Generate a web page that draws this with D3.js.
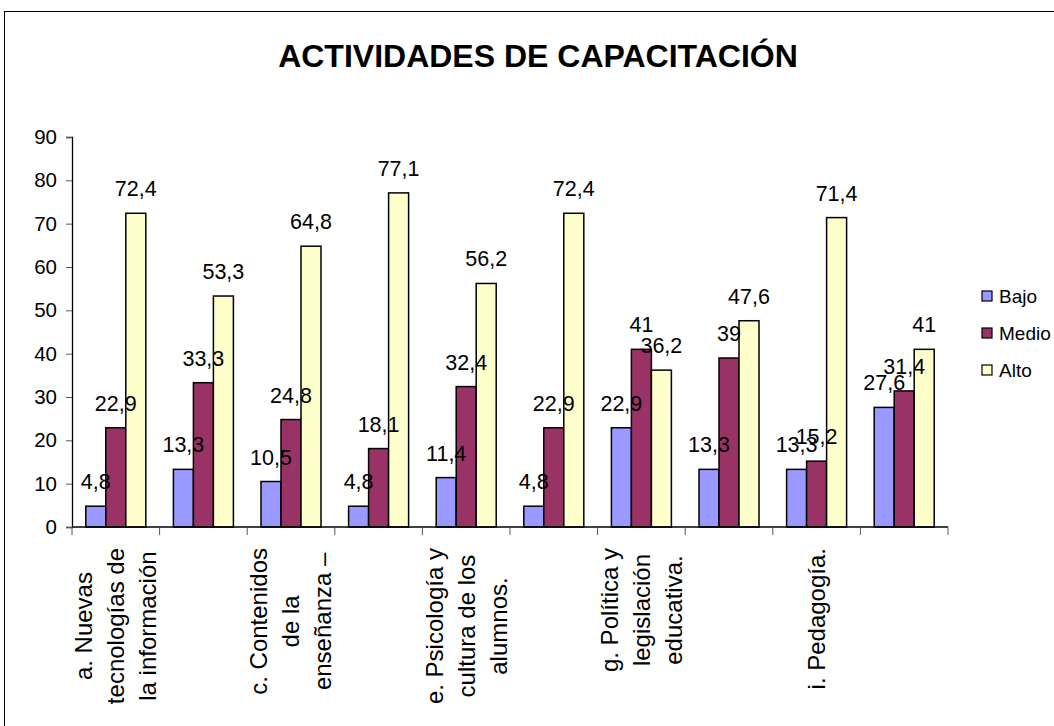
<!DOCTYPE html>
<html>
<head>
<meta charset="utf-8">
<script src="https://cdn.jsdelivr.net/npm/d3@7"></script>
<style>
  body { margin: 0; background: #fff; }
  svg text { font-family: Arial, "Liberation Sans", sans-serif; fill: #000; }
</style>
</head>
<body>
<svg id="chart" width="1054" height="726"></svg>
<script>
// données
var categories = ["a", "b", "c", "d", "e", "f", "g", "h", "i", "j"];
var catLabels = [
    ["a. Nuevas", "tecnologías de", "la información"],
    [],
    ["c. Contenidos", "de la", "enseñanza –"],
    [],
    ["e. Psicología y", "cultura de los", "alumnos."],
    [],
    ["g. Política y", "legislación", "educativa."],
    [],
    ["i. Pedagogía."],
    []
];
var series = ["Bajo", "Medio", "Alto"];
var bajo  = [4.8, 13.3, 10.5, 4.8, 11.4, 4.8, 22.9, 13.3, 13.3, 27.6];
var medio = [22.9, 33.3, 24.8, 18.1, 32.4, 22.9, 41, 39, 15.2, 31.4];
var alto  = [72.4, 53.3, 64.8, 77.1, 56.2, 72.4, 36.2, 47.6, 71.4, 41];
var yTicks = [0, 10, 20, 30, 40, 50, 60, 70, 80, 90];
var colors = ["#9999FF", "#993366", "#FFFFCC"];
var titre = "ACTIVIDADES DE CAPACITACIÓN";

var values = [bajo, medio, alto];
var data = categories.map(function(c, i) {
    return { cat: c, vals: series.map(function(s, k) { return { s: s, k: k, v: values[k][i] }; }) };
});

var svg = d3.select("#chart");

// cadre extérieur
svg.append("rect")
    .attr("x", 4.5).attr("y", 11.5)
    .attr("width", 1200).attr("height", 900)
    .attr("fill", "none").attr("stroke", "#000").attr("stroke-width", 1);

svg.append("text")
    .attr("x", 538).attr("y", 67)
    .attr("text-anchor", "middle")
    .style("font-size", "32px").style("font-weight", "bold")
    .text(titre);

var margin = { left: 72, right: 948, top: 137, bottom: 527 };

var x = d3.scaleBand().domain(categories).range([margin.left, margin.right]).paddingInner(0).paddingOuter(0);
var y = d3.scaleLinear().domain([0, 90]).range([margin.bottom, margin.top]);
var xIn = d3.scaleBand().domain(series).range([0, x.bandwidth()]).paddingInner(0).paddingOuter(0.69);

var g = svg.append("g");

var grp = g.selectAll(".grp").data(data).enter().append("g")
    .attr("transform", function(d) { return "translate(" + x(d.cat) + ",0)"; });

grp.selectAll("rect").data(function(d) { return d.vals; }).enter().append("rect")
    .attr("x", function(d) { return xIn(d.s); })
    .attr("y", function(d) { return y(d.v); })
    .attr("width", xIn.bandwidth())
    .attr("height", function(d) { return y(0) - y(d.v); })
    .attr("fill", function(d) { return colors[d.k]; })
    .attr("stroke", "#000").attr("stroke-width", 1.5);

grp.selectAll(".lbl").data(function(d) { return d.vals; }).enter().append("text")
    .attr("class", "lbl")
    .attr("x", function(d) { return xIn(d.s) + xIn.bandwidth() / 2; })
    .attr("y", function(d) { return y(d.v) - 17; })
    .attr("text-anchor", "middle")
    .style("font-size", "21.5px")
    .text(function(d) { return String(d.v).replace(".", ","); });

// axe y
var yAxis = g.append("g")
    .attr("transform", "translate(" + margin.left + ",0)")
    .call(d3.axisLeft(y).tickValues(yTicks).tickSize(6).tickPadding(9).tickFormat(d3.format("d")));
yAxis.select(".domain").attr("stroke", "#000").attr("stroke-width", 1.3);
yAxis.selectAll(".tick line").attr("stroke", "#555");
yAxis.selectAll("text").style("font-size", "20.5px").style("font-family", "Arial, 'Liberation Sans', sans-serif");

// axe x
var xLine = g.append("g");
xLine.append("line")
    .attr("x1", margin.left).attr("x2", margin.right).attr("y1", margin.bottom).attr("y2", margin.bottom)
    .attr("stroke", "#000").attr("stroke-width", 1.3);
xLine.selectAll(".xt").data(categories.concat(["end"])).enter().append("line")
    .attr("x1", function(d, i) { return margin.left + i * x.bandwidth(); })
    .attr("x2", function(d, i) { return margin.left + i * x.bandwidth(); })
    .attr("y1", margin.bottom).attr("y2", margin.bottom + 8)
    .attr("stroke", "#555");

// étiquettes de catégories (une sur deux, comme Excel)
var labG = g.selectAll(".cl").data(catLabels).enter().append("g")
    .attr("transform", function(d, i) { return "translate(" + (x(categories[i]) + x.bandwidth() / 2) + ",548) rotate(-90)"; });
labG.each(function(lines) {
    var sel = d3.select(this);
    var n = lines.length;
    var texts = sel.selectAll("text").data(lines).enter().append("text")
        .attr("text-anchor", "middle")
        .attr("y", function(d, i) { return (i - (n - 1) / 2) * 32; })
        .attr("dy", "0.35em")
        .style("font-size", "24px")
        .text(function(d) { return d; });
    var maxLen = 0;
    texts.each(function() { maxLen = Math.max(maxLen, this.getComputedTextLength()); });
    texts.attr("x", -maxLen / 2);
});

// légende
var leg = svg.append("g").attr("transform", "translate(982,296)");
var li = leg.selectAll(".li").data(series).enter().append("g")
    .attr("transform", function(d, i) { return "translate(0," + i * 37 + ")"; });
li.append("rect")
    .attr("x", 0).attr("y", -5).attr("width", 10).attr("height", 10)
    .attr("fill", function(d, i) { return colors[i]; })
    .attr("stroke", "#000").attr("stroke-width", 1.2);
li.append("text")
    .attr("x", 17).attr("dy", "0.35em")
    .style("font-size", "19px")
    .text(function(d) { return d; });
</script>
</body>
</html>
